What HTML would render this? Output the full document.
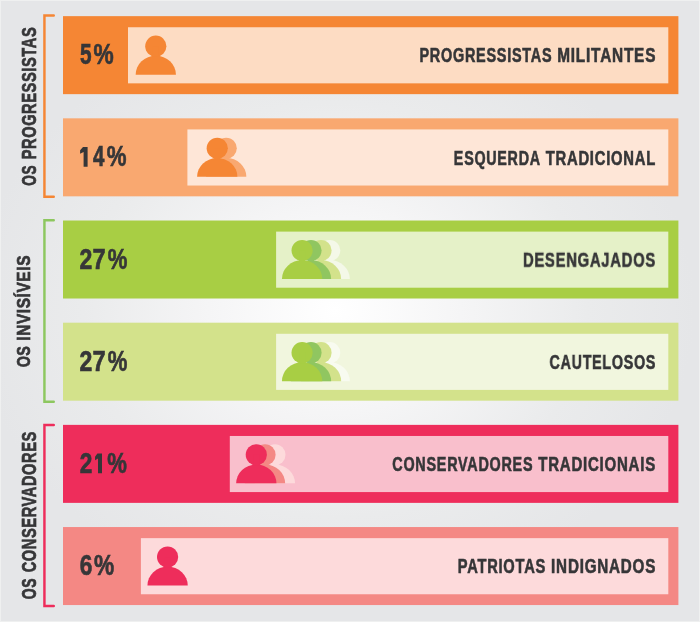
<!DOCTYPE html><html><head><meta charset="utf-8"><style>
html,body{margin:0;padding:0;width:700px;height:622px;overflow:hidden;background:#E6E7E9}
svg{display:block;will-change:transform}
text{font-family:"Liberation Sans",sans-serif;font-weight:bold}
</style></head><body>
<svg width="700" height="622" viewBox="0 0 700 622">
<defs><radialGradient id="bg" cx="335" cy="310" r="360" gradientUnits="userSpaceOnUse" gradientTransform="translate(335 310) scale(1 0.82) translate(-335 -310)">
<stop offset="0" stop-color="#FFFFFF"/><stop offset="0.35" stop-color="#F5F5F6"/><stop offset="0.7" stop-color="#EAEBEC"/><stop offset="1" stop-color="#E5E6E8"/></radialGradient></defs>
<rect width="700" height="622" fill="url(#bg)"/>

<rect x="63" y="16.15" width="615.40" height="78.0" fill="#F58634"/>
<rect x="128.0" y="27.25" width="540.30" height="56.1" fill="#FDDCC3"/>
<circle cx="155.80" cy="46.15" r="10.6" fill="#F58634"/><path d="M135.65 74.65A20.15 18.90 0 0 1 175.95 74.65Z" fill="#F58634"/><rect x="152.80" y="46.15" width="6" height="10.80" fill="#F58634"/>
<rect x="63" y="118.33" width="615.40" height="78.0" fill="#F9A870"/>
<rect x="187.4" y="129.43" width="480.90" height="56.1" fill="#FEE6D7"/>
<circle cx="226.20" cy="148.33" r="10.6" fill="#F9A870"/><path d="M206.05 176.83A20.15 18.90 0 0 1 246.35 176.83Z" fill="#F9A870"/><rect x="223.20" y="148.33" width="6" height="10.80" fill="#F9A870"/>
<circle cx="217.25" cy="148.33" r="10.6" fill="#F58634"/><path d="M197.10 176.83A20.15 18.90 0 0 1 237.40 176.83Z" fill="#F58634"/><rect x="214.25" y="148.33" width="6" height="10.80" fill="#F58634"/>
<rect x="63" y="220.51" width="615.40" height="78.0" fill="#A8CE44"/>
<rect x="276.1" y="231.61" width="392.20" height="56.1" fill="#E5F1C8"/>
<circle cx="329.70" cy="250.51" r="10.6" fill="#F4F8E8"/><path d="M309.55 279.01A20.15 18.90 0 0 1 349.85 279.01Z" fill="#F4F8E8"/><rect x="326.70" y="250.51" width="6" height="10.80" fill="#F4F8E8"/>
<circle cx="321.00" cy="250.51" r="10.6" fill="#D3E28B"/><path d="M300.85 279.01A20.15 18.90 0 0 1 341.15 279.01Z" fill="#D3E28B"/><rect x="318.00" y="250.51" width="6" height="10.80" fill="#D3E28B"/>
<circle cx="311.00" cy="250.51" r="10.6" fill="#90C660"/><path d="M290.85 279.01A20.15 18.90 0 0 1 331.15 279.01Z" fill="#90C660"/><rect x="308.00" y="250.51" width="6" height="10.80" fill="#90C660"/>
<circle cx="302.10" cy="250.51" r="10.6" fill="#A8CE44"/><path d="M281.95 279.01A20.15 18.90 0 0 1 322.25 279.01Z" fill="#A8CE44"/><rect x="299.10" y="250.51" width="6" height="10.80" fill="#A8CE44"/>
<rect x="63" y="322.69" width="615.40" height="78.0" fill="#D3E28B"/>
<rect x="276.1" y="333.79" width="392.20" height="56.1" fill="#F1F6DE"/>
<circle cx="329.70" cy="352.69" r="10.6" fill="#F8FBF0"/><path d="M309.55 381.19A20.15 18.90 0 0 1 349.85 381.19Z" fill="#F8FBF0"/><rect x="326.70" y="352.69" width="6" height="10.80" fill="#F8FBF0"/>
<circle cx="321.00" cy="352.69" r="10.6" fill="#D3E28B"/><path d="M300.85 381.19A20.15 18.90 0 0 1 341.15 381.19Z" fill="#D3E28B"/><rect x="318.00" y="352.69" width="6" height="10.80" fill="#D3E28B"/>
<circle cx="311.00" cy="352.69" r="10.6" fill="#90C660"/><path d="M290.85 381.19A20.15 18.90 0 0 1 331.15 381.19Z" fill="#90C660"/><rect x="308.00" y="352.69" width="6" height="10.80" fill="#90C660"/>
<circle cx="302.10" cy="352.69" r="10.6" fill="#A8CE44"/><path d="M281.95 381.19A20.15 18.90 0 0 1 322.25 381.19Z" fill="#A8CE44"/><rect x="299.10" y="352.69" width="6" height="10.80" fill="#A8CE44"/>
<rect x="63" y="424.87" width="615.40" height="78.0" fill="#EE2D5B"/>
<rect x="229.8" y="435.97" width="438.50" height="56.1" fill="#F9BFCC"/>
<circle cx="274.90" cy="454.87" r="10.6" fill="#FDDADB"/><path d="M254.75 483.37A20.15 18.90 0 0 1 295.05 483.37Z" fill="#FDDADB"/><rect x="271.90" y="454.87" width="6" height="10.80" fill="#FDDADB"/>
<circle cx="265.00" cy="454.87" r="10.6" fill="#F48884"/><path d="M244.85 483.37A20.15 18.90 0 0 1 285.15 483.37Z" fill="#F48884"/><rect x="262.00" y="454.87" width="6" height="10.80" fill="#F48884"/>
<circle cx="256.30" cy="454.87" r="10.6" fill="#EE2D5B"/><path d="M236.15 483.37A20.15 18.90 0 0 1 276.45 483.37Z" fill="#EE2D5B"/><rect x="253.30" y="454.87" width="6" height="10.80" fill="#EE2D5B"/>
<rect x="63" y="527.05" width="615.40" height="78.0" fill="#F48884"/>
<rect x="140.9" y="538.15" width="527.40" height="56.1" fill="#FDDADB"/>
<circle cx="167.60" cy="557.05" r="10.6" fill="#EE2D5B"/><path d="M147.45 585.55A20.15 18.90 0 0 1 187.75 585.55Z" fill="#EE2D5B"/><rect x="164.60" y="557.05" width="6" height="10.80" fill="#EE2D5B"/>
<text transform="translate(419.45 62.40) scale(0.7465 1)" font-size="19.35" letter-spacing="1.0" fill="#363638" stroke="#363638" stroke-width="0.6">PROGRESSISTAS</text>
<text transform="translate(557.21 62.40) scale(0.7943 1)" font-size="19.35" letter-spacing="1.0" fill="#363638" stroke="#363638" stroke-width="0.6">MILITANTES</text>
<text transform="translate(79.95 64.25) scale(0.6968 1)" font-size="29.82" fill="#363638" stroke="#363638" stroke-width="0.7">5</text>
<text transform="translate(93.62 64.25) scale(0.7608 1)" font-size="29.82" fill="#363638" stroke="#363638" stroke-width="0.7">%</text>
<text transform="translate(453.86 164.58) scale(0.7394 1)" font-size="19.35" letter-spacing="1.0" fill="#363638" stroke="#363638" stroke-width="0.6">ESQUERDA</text>
<text transform="translate(545.70 164.58) scale(0.7650 1)" font-size="19.35" letter-spacing="1.0" fill="#363638" stroke="#363638" stroke-width="0.6">TRADICIONAL</text>
<path d="M83.00 147.08H87.60V166.63H83.60V152.08L80.10 153.68V150.18Z" fill="#363638"/>
<text transform="translate(92.90 166.43) scale(0.6866 1)" font-size="29.82" fill="#363638" stroke="#363638" stroke-width="0.7">4</text>
<text transform="translate(106.63 166.43) scale(0.7451 1)" font-size="29.82" fill="#363638" stroke="#363638" stroke-width="0.7">%</text>
<text transform="translate(522.94 266.76) scale(0.7639 1)" font-size="19.35" letter-spacing="1.0" fill="#363638" stroke="#363638" stroke-width="0.6">DESENGAJADOS</text>
<text transform="translate(79.62 268.61) scale(0.7733 1)" font-size="29.82" fill="#363638" stroke="#363638" stroke-width="0.7">2</text>
<text transform="translate(92.61 268.61) scale(0.7931 1)" font-size="29.82" fill="#363638" stroke="#363638" stroke-width="0.7">7</text>
<text transform="translate(107.63 268.61) scale(0.7412 1)" font-size="29.82" fill="#363638" stroke="#363638" stroke-width="0.7">%</text>
<text transform="translate(549.53 368.94) scale(0.7381 1)" font-size="19.35" letter-spacing="1.0" fill="#363638" stroke="#363638" stroke-width="0.6">CAUTELOSOS</text>
<text transform="translate(79.62 370.79) scale(0.7733 1)" font-size="29.82" fill="#363638" stroke="#363638" stroke-width="0.7">2</text>
<text transform="translate(92.61 370.79) scale(0.7931 1)" font-size="29.82" fill="#363638" stroke="#363638" stroke-width="0.7">7</text>
<text transform="translate(107.63 370.79) scale(0.7412 1)" font-size="29.82" fill="#363638" stroke="#363638" stroke-width="0.7">%</text>
<text transform="translate(392.33 471.12) scale(0.7435 1)" font-size="19.35" letter-spacing="1.0" fill="#363638" stroke="#363638" stroke-width="0.6">CONSERVADORES</text>
<text transform="translate(538.20 471.12) scale(0.7767 1)" font-size="19.35" letter-spacing="1.0" fill="#363638" stroke="#363638" stroke-width="0.6">TRADICIONAIS</text>
<text transform="translate(79.73 472.97) scale(0.7600 1)" font-size="29.82" fill="#363638" stroke="#363638" stroke-width="0.7">2</text>
<path d="M97.40 453.62H102.00V473.17H98.00V458.62L95.05 460.22V456.72Z" fill="#363638"/>
<text transform="translate(107.33 472.97) scale(0.7412 1)" font-size="29.82" fill="#363638" stroke="#363638" stroke-width="0.7">%</text>
<text transform="translate(457.74 573.30) scale(0.7588 1)" font-size="19.35" letter-spacing="1.0" fill="#363638" stroke="#363638" stroke-width="0.6">PATRIOTAS</text>
<text transform="translate(551.11 573.30) scale(0.7863 1)" font-size="19.35" letter-spacing="1.0" fill="#363638" stroke="#363638" stroke-width="0.6">INDIGNADOS</text>
<text transform="translate(79.73 575.15) scale(0.7600 1)" font-size="29.82" fill="#363638" stroke="#363638" stroke-width="0.7">6</text>
<text transform="translate(93.92 575.15) scale(0.7608 1)" font-size="29.82" fill="#363638" stroke="#363638" stroke-width="0.7">%</text>
<text transform="translate(35.50 159.34) rotate(-90) scale(0.7401 1)" font-size="19.78" letter-spacing="0.8" fill="#363638" stroke="#363638" stroke-width="0.7">PROGRESSISTAS</text>
<text transform="translate(35.50 185.65) rotate(-90) scale(0.6912 1)" font-size="19.78" letter-spacing="0.8" fill="#363638" stroke="#363638" stroke-width="0.7">OS</text>
<text transform="translate(29.60 340.70) rotate(-90) scale(0.8029 1)" font-size="19.13" letter-spacing="0.8" fill="#363638" stroke="#363638" stroke-width="0.7">INVISÍVEIS</text>
<text transform="translate(29.60 367.37) rotate(-90) scale(0.7491 1)" font-size="19.13" letter-spacing="0.8" fill="#363638" stroke="#363638" stroke-width="0.7">OS</text>
<text transform="translate(36.10 572.37) rotate(-90) scale(0.7403 1)" font-size="19.78" letter-spacing="0.8" fill="#363638" stroke="#363638" stroke-width="0.7">CONSERVADORES</text>
<text transform="translate(36.10 599.25) rotate(-90) scale(0.7088 1)" font-size="19.78" letter-spacing="0.8" fill="#363638" stroke="#363638" stroke-width="0.7">OS</text>
<path d="M53.77 15.53H44.43V196.78H53.77" fill="none" stroke="#F58634" stroke-width="2.45" stroke-linecap="round"/>
<path d="M53.77 220.32H44.43V401.67H53.77" fill="none" stroke="#8DC75F" stroke-width="2.45" stroke-linecap="round"/>
<path d="M53.77 425.03H44.43V606.07H53.77" fill="none" stroke="#EE2D5B" stroke-width="2.45" stroke-linecap="round"/>
<rect x="0.5" y="0.5" width="699" height="621" fill="none" stroke="#EFF0F0" stroke-width="1"/>
</svg></body></html>
